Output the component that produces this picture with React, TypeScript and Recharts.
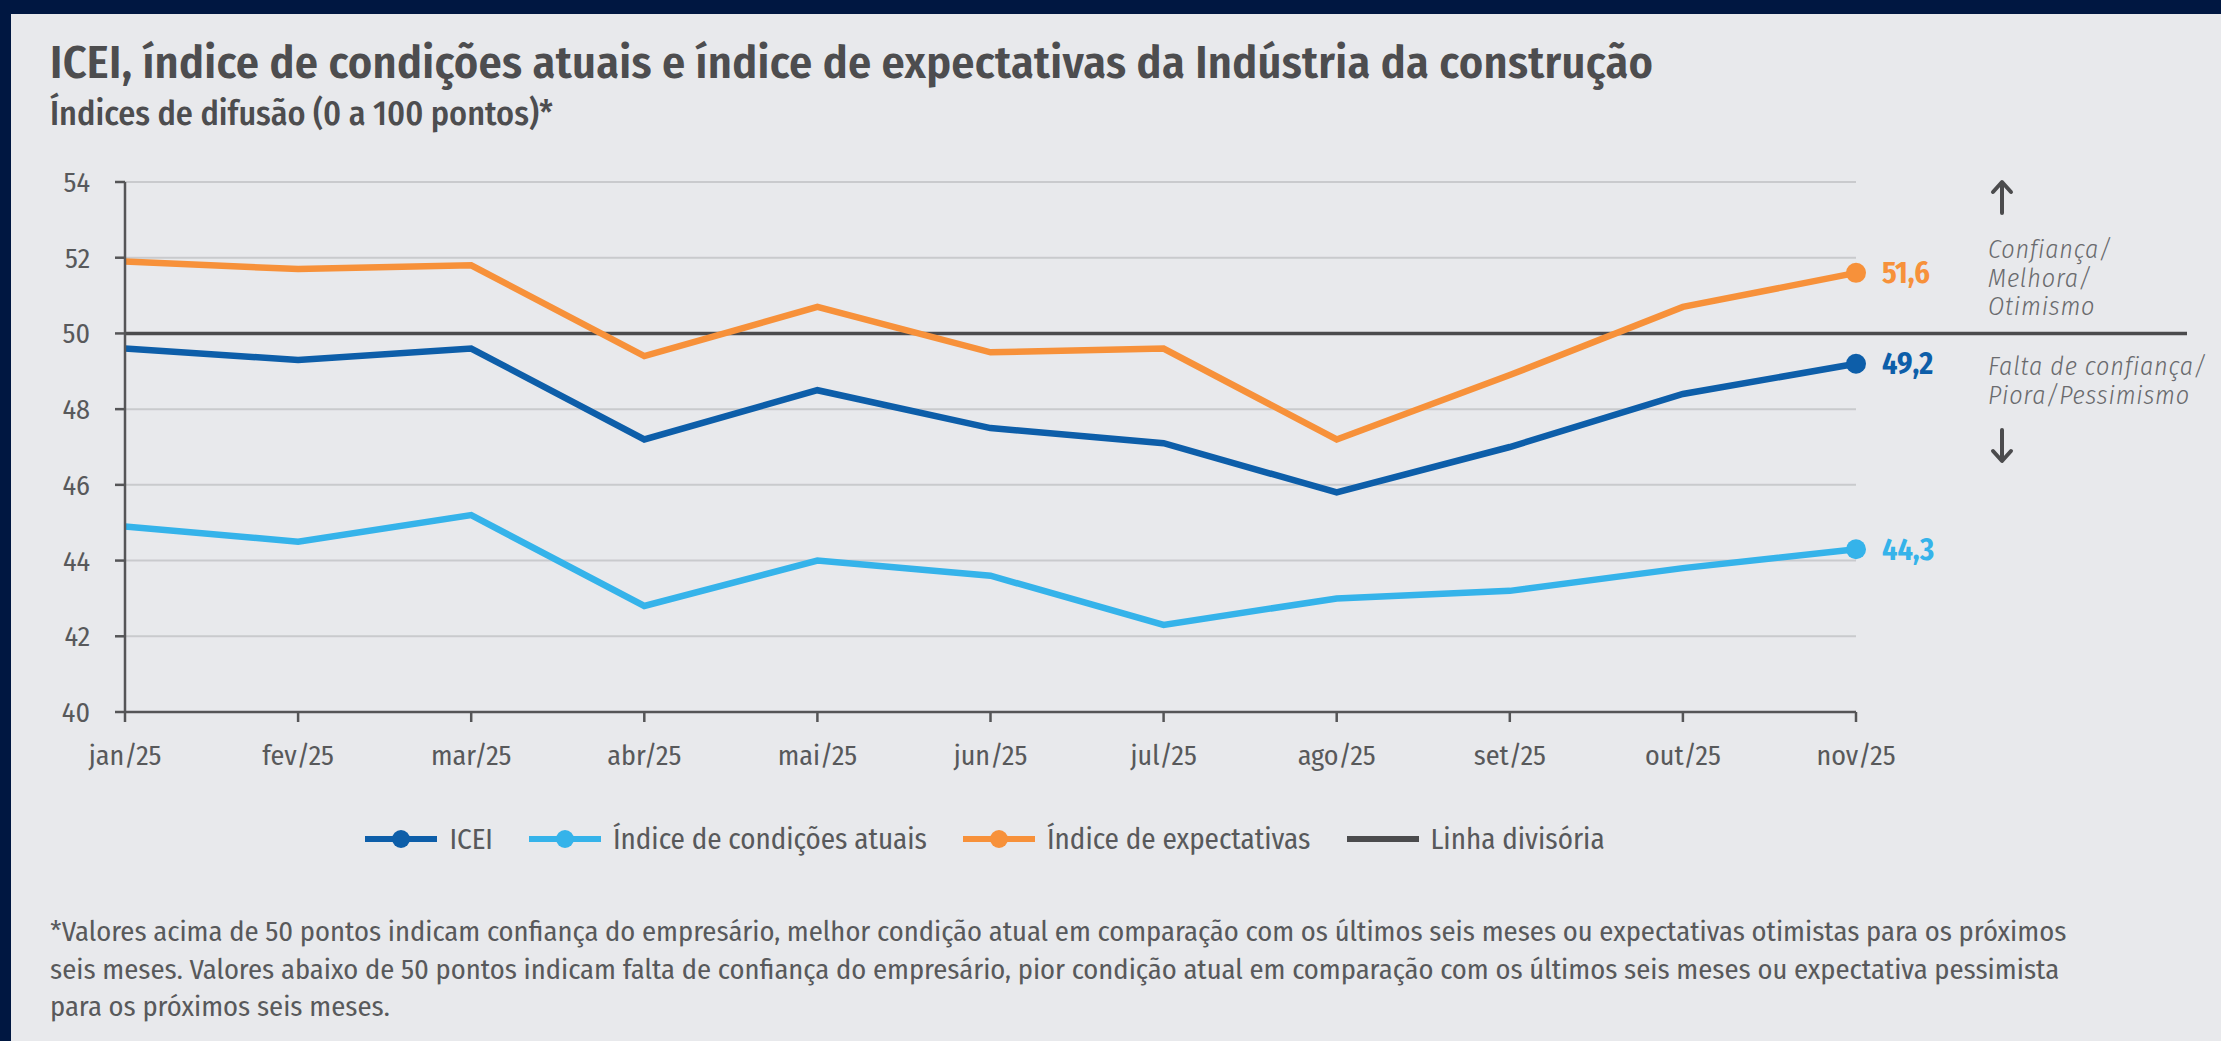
import { LineChart, Line, XAxis, YAxis, CartesianGrid, ReferenceLine } from 'recharts';

const months = ['jan/25', 'fev/25', 'mar/25', 'abr/25', 'mai/25', 'jun/25', 'jul/25', 'ago/25', 'set/25', 'out/25', 'nov/25'];
const icei = [49.6, 49.3, 49.6, 47.2, 48.5, 47.5, 47.1, 45.8, 47.0, 48.4, 49.2];
const condicoesAtuais = [44.9, 44.5, 45.2, 42.8, 44.0, 43.6, 42.3, 43.0, 43.2, 43.8, 44.3];
const expectativas = [51.9, 51.7, 51.8, 49.4, 50.7, 49.5, 49.6, 47.2, 48.9, 50.7, 51.6];
const linhaDivisoria = 50;
const yTicks = [40, 42, 44, 46, 48, 50, 52, 54];

const data = months.map((m, i) => ({
  month: m,
  icei: icei[i],
  atuais: condicoesAtuais[i],
  expectativas: expectativas[i],
}));

const series = [
  { key: 'icei', name: 'ICEI', color: '#0d5ea9' },
  { key: 'atuais', name: 'Índice de condições atuais', color: '#35b3ea' },
  { key: 'expectativas', name: 'Índice de expectativas', color: '#f7913a' },
];

const FONT = "'Fira Sans Condensed', 'DejaVu Sans Condensed', 'Liberation Sans Narrow', 'Open Sans', sans-serif";
const TEXT = '#58595b';
const last = months.length - 1;

const fmt = (v: number) => v.toFixed(1).replace('.', ',');

function endDot(color: string) {
  return (props: any) => {
    const { cx, cy, index } = props;
    if (index !== last) return <g key={`d${index}`} />;
    return <circle key={`d${index}`} cx={cx} cy={cy} r={10} fill={color} />;
  };
}

function endLabel(color: string) {
  return (props: any) => {
    const { x, y, value, index } = props;
    if (index !== last) return <g key={`l${index}`} />;
    return (
      <text key={`l${index}`} x={x + 26} y={y} dy="0.35em" fill={color} fontSize={30} fontWeight={700} fontFamily={FONT} style={{ fontStretch: 'condensed' }}>
        {fmt(value)}
      </text>
    );
  };
}

function Divisoria(props: any) {
  const { x1, y1, y2 } = props;
  return <line x1={x1} y1={y1} x2={2187} y2={y2} stroke="#4b4b4d" strokeWidth={3.5} />;
}

function Arrow({ x, y, down }: { x: number; y: number; down?: boolean }) {
  const d = down
    ? `M${x} ${y} L${x} ${y + 30} M${x - 9} ${y + 21} L${x} ${y + 31} L${x + 9} ${y + 21}`
    : `M${x} ${y + 33} L${x} ${y + 3} M${x - 9} ${y + 12} L${x} ${y + 2} L${x + 9} ${y + 12}`;
  return <path d={d} stroke="#4b4b4d" strokeWidth={4} fill="none" strokeLinecap="round" strokeLinejoin="round" />;
}

export default function App() {
  const txt = { fontFamily: FONT, fontStretch: 'condensed' as const, color: TEXT };
  const note = { ...txt, position: 'absolute' as const, left: 1988, fontSize: 26, fontStyle: 'italic' as const, fontWeight: 300, lineHeight: '28.5px', letterSpacing: 0.8, color: '#6a6b6e', whiteSpace: 'nowrap' as const };
  return (
    <div style={{ position: 'fixed', left: 0, top: 0, width: 2221, height: 1041, background: '#001741', overflow: 'hidden' }}>
      <div style={{ position: 'absolute', left: 11, top: 14, right: 0, bottom: 0, background: '#e8e9ec' }} />

      <div style={{ ...txt, position: 'absolute', left: 50, top: 35, fontSize: 46, fontWeight: 600, letterSpacing: 0.3, color: '#4d4d4f', whiteSpace: 'nowrap' }}>
        ICEI, índice de condições atuais e índice de expectativas da Indústria da construção
      </div>
      <div style={{ ...txt, position: 'absolute', left: 50, top: 93, fontSize: 34, fontWeight: 500, color: '#4d4d4f', whiteSpace: 'nowrap' }}>
        Índices de difusão (0 a 100 pontos)*
      </div>

      <div style={{ position: 'absolute', left: 0, top: 0 }}>
        <LineChart width={2221} height={800} data={data} margin={{ top: 182, right: 365, bottom: 38, left: 65 }} style={{ overflow: 'visible' }}>
          <CartesianGrid vertical={false} stroke="#c9cacd" strokeWidth={2} />
          <XAxis
            dataKey="month"
            height={50}
            tickSize={10}
            tickMargin={23}
            axisLine={{ stroke: '#555557', strokeWidth: 2.5 }}
            tickLine={{ stroke: '#555557', strokeWidth: 2.5 }}
            tick={{ fill: TEXT, fontSize: 28, fontFamily: FONT, style: { fontStretch: 'condensed' } }}
            interval={0}
          />
          <YAxis
            domain={[40, 54]}
            ticks={yTicks}
            width={60}
            tickSize={10}
            tickMargin={25}
            axisLine={{ stroke: '#555557', strokeWidth: 2.5 }}
            tickLine={{ stroke: '#555557', strokeWidth: 2.5 }}
            tick={{ fill: TEXT, fontSize: 28, fontFamily: FONT, style: { fontStretch: 'condensed' } }}
          />
          <ReferenceLine y={linhaDivisoria} shape={Divisoria} />
          {series.map((s) => (
            <Line
              key={s.key}
              type="linear"
              dataKey={s.key}
              name={s.name}
              stroke={s.color}
              strokeWidth={6.5}
              dot={endDot(s.color)}
              activeDot={false}
              label={endLabel(s.color)}
              isAnimationActive={false}
            />
          ))}
        </LineChart>
      </div>

      <svg style={{ position: 'absolute', left: 0, top: 0 }} width={2221} height={1041}>
        <Arrow x={2002} y={180} />
        <Arrow x={2002} y={430} down />
      </svg>
      <div style={{ ...note, top: 236 }}>
        Confiança/<br />Melhora/<br />Otimismo
      </div>
      <div style={{ ...note, top: 353 }}>
        Falta de confiança/<br />Piora/Pessimismo
      </div>

      <div style={{ ...txt, position: 'absolute', left: 0, width: 1970, top: 819, height: 40, display: 'flex', justifyContent: 'center', alignItems: 'center', gap: 36, fontSize: 29 }}>
        {[...series.map((s) => ({ name: s.name, color: s.color, dot: true })), { name: 'Linha divisória', color: '#4b4b4d', dot: false }].map((it) => (
          <div key={it.name} style={{ display: 'flex', alignItems: 'center', gap: 12 }}>
            <svg width={72} height={24}>
              <line x1={0} x2={72} y1={12} y2={12} stroke={it.color} strokeWidth={6} />
              {it.dot && <circle cx={36} cy={12} r={9} fill={it.color} />}
            </svg>
            <span>{it.name}</span>
          </div>
        ))}
      </div>

      <div style={{ ...txt, position: 'absolute', left: 50, top: 913, width: 2060, fontSize: 28.5, lineHeight: '37.5px', fontWeight: 400 }}>
        *Valores acima de 50 pontos indicam confiança do empresário, melhor condição atual em comparação com os últimos seis meses ou expectativas otimistas para os próximos seis meses. Valores abaixo de 50 pontos indicam falta de confiança do empresário, pior condição atual em comparação com os últimos seis meses ou expectativa pessimista para os próximos seis meses.
      </div>
    </div>
  );
}
